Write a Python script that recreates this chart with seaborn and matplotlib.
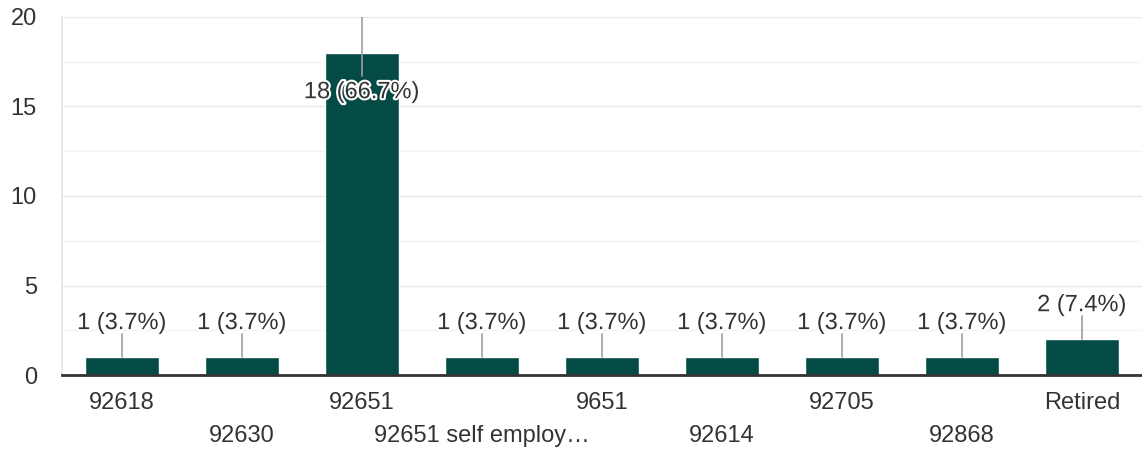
import matplotlib
matplotlib.use("Agg")
import matplotlib.pyplot as plt
import matplotlib.patheffects as pe
import matplotlib.transforms as mtransforms
import seaborn as sns
import pandas as pd

categories = ["92618", "92630", "92651", "92651 self employ…", "9651",
              "92614", "92705", "92868", "Retired"]
counts = [1, 1, 18, 1, 1, 1, 1, 1, 2]
labels = ["1 (3.7%)", "1 (3.7%)", "18 (66.7%)", "1 (3.7%)", "1 (3.7%)",
          "1 (3.7%)", "1 (3.7%)", "1 (3.7%)", "2 (7.4%)"]
y_ticks = [0, 5, 10, 15, 20]

sns.set_theme(style="white")
plt.rcParams["font.family"] = ["Liberation Sans", "DejaVu Sans"]

BAR = "#044a45"
TXT = "#333333"
FS = 17

fig = plt.figure(figsize=(11.42, 4.49), dpi=100)
ax = fig.add_axes([62 / 1142, 1 - 375 / 449, 1080 / 1142, 358 / 449])

df = pd.DataFrame({"cat": categories, "n": counts})
sns.barplot(data=df, x="cat", y="n", color=BAR, saturation=1, width=0.62, ax=ax)

ax.set_ylim(0, 20)
ax.set_xlim(-0.5, len(categories) - 0.5)
ax.set_yticks(y_ticks)
ax.set_yticks([2.5, 7.5, 12.5, 17.5], minor=True)
ax.set_yticklabels([str(t) for t in y_ticks], fontsize=FS, color=TXT)
ax.grid(axis="y", which="major", color="#e8e8e8", lw=1)
ax.grid(axis="y", which="minor", color="#f3f3f3", lw=1)
ax.set_axisbelow(True)
ax.tick_params(axis="y", length=0, pad=18)
ax.tick_params(axis="x", length=0)

# category labels staggered over two rows
ax.set_xticks(range(len(categories)))
ax.set_xticklabels([])
trans = mtransforms.blended_transform_factory(ax.transData, ax.transAxes)
for i, c in enumerate(categories):
    yy = -28 / 358 if i % 2 == 0 else -61 / 358
    ax.text(i, yy, c, transform=trans, ha="center", va="center",
            fontsize=FS, color=TXT)
ax.set_xlabel("")
ax.set_ylabel("")

for s in ["top", "right"]:
    ax.spines[s].set_visible(False)
ax.spines["left"].set_color("#e6e6e6")
ax.spines["bottom"].set_color(TXT)
ax.spines["bottom"].set_linewidth(2)

ymax = 20
for i, (v, lab) in enumerate(zip(counts, labels)):
    ty = v + 1.9
    if ty > ymax - 3:
        ty = 15.8
        line_lo, line_hi = ty + 0.9, ymax
    else:
        line_lo, line_hi = v, v + 1.3
    ax.plot([i, i], [line_lo, line_hi], color="#9e9e9e", lw=1.2, zorder=3)
    ax.text(i, ty, lab, ha="center", va="center", fontsize=FS, color=TXT, zorder=4,
            path_effects=[pe.withStroke(linewidth=3, foreground="white")])

fig.savefig("out.png", dpi=100)
